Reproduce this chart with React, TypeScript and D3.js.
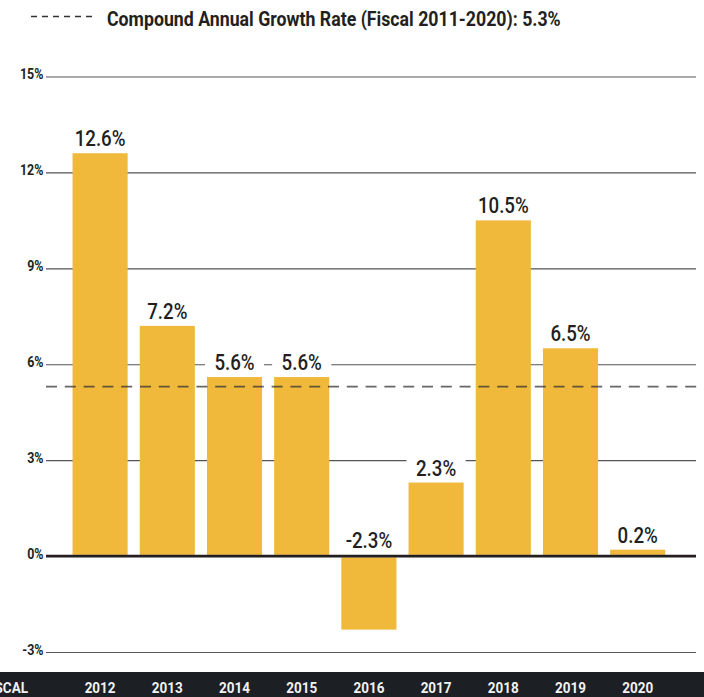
import React, { useLayoutEffect, useRef, useState } from "react";
import * as d3 from "d3";

const years = ["2012", "2013", "2014", "2015", "2016", "2017", "2018", "2019", "2020"];
const growth = [12.6, 7.2, 5.6, 5.6, -2.3, 2.3, 10.5, 6.5, 0.2];
const yTicks = [-3, 0, 3, 6, 9, 12, 15];
const cagr = 5.3;
const titleText = "Compound Annual Growth Rate (Fiscal 2011-2020): 5.3%";
const axisLabel = "FISCAL";

const W = 704;
const H = 697;
const FONT = "Roboto, 'Liberation Sans', sans-serif";
const INK = "#231f20";
const BAR = "#f0b93b";

// Text squeezed horizontally to imitate a condensed face.
function CText(props: {
  x: number; y: number; sx: number; size: number; weight?: string | number;
  anchor?: "start" | "middle" | "end"; fill?: string; children: string;
}) {
  const { x, y, sx, size, weight = "bold", anchor = "start", fill = INK, children } = props;
  return (
    <text
      transform={`translate(${x},${y}) scale(${sx},1)`}
      textAnchor={anchor}
      fontSize={size}
      fontWeight={weight}
      fill={fill}
    >
      {children}
    </text>
  );
}

function FitText(props: { x: number; y: number; width: number; size: number; children: string }) {
  const ref = useRef<SVGTextElement>(null);
  const [sx, setSx] = useState(0.78);
  useLayoutEffect(() => {
    if (ref.current) {
      const w = ref.current.getComputedTextLength();
      if (w > 0) setSx(props.width / w);
    }
  }, [props.width, props.children]);
  return (
    <text
      ref={ref}
      transform={`translate(${props.x},${props.y}) scale(${sx},1)`}
      fontSize={props.size}
      fontWeight="bold"
      fill={INK}
    >
      {props.children}
    </text>
  );
}

export default function App() {
  const x = d3.scaleBand<string>().domain(years).range([66.5, 671.3]).paddingInner(0.18).paddingOuter(0.09);
  const y = d3.scaleLinear().domain([-3, 15]).range([652, 76.5]);
  const bw = x.bandwidth();
  const gridX0 = 46;
  const gridX1 = 696;

  return (
    <svg width={W} height={H} style={{ position: "absolute", left: 0, top: 0, display: "block" }} fontFamily={FONT}>
      <rect x={0} y={0} width={W} height={H} fill="#fff" />
      {/* legend */}
      <line x1={31} x2={92} y1={16.5} y2={16.5} stroke="#333" strokeWidth={1.5} strokeDasharray="6 5" />
      <FitText x={107} y={26} width={454} size={21}>{titleText}</FitText>
      {/* grid */}
      {yTicks.map((t) => (
        <g key={t}>
          {t !== 0 && (
            <line x1={gridX0} x2={gridX1} y1={y(t) + 0.5} y2={y(t) + 0.5} stroke="#555" strokeWidth={1.2} />
          )}
          <CText x={43.5} y={y(t) + 2.5} sx={0.86} size={14.5} anchor="end">{`${t}%`}</CText>
        </g>
      ))}
      {/* bars */}
      {years.map((yr, i) => {
        const v = growth[i];
        const top = v >= 0 ? y(v) : y(0) + 1.2;
        const bottom = v >= 0 ? y(0) - 1.2 : y(v);
        return <rect key={yr} x={x(yr)} y={top} width={bw} height={Math.max(0, bottom - top)} fill={BAR} />;
      })}
      {/* labels with white backing */}
      {years.map((yr, i) => {
        const v = growth[i];
        const base = v >= 0 ? y(v) - 7 : y(0) - 8.5;
        const cx = (x(yr) as number) + bw / 2;
        return (
          <g key={yr}>
            <rect x={(x(yr) as number) - 2} y={base - 20} width={bw + 4} height={23} fill="#fff" />
            <CText x={cx} y={base} sx={0.85} size={22} weight={500} anchor="middle">{`${v.toFixed(1)}%`}</CText>
          </g>
        );
      })}
      {/* zero line */}
      <line x1={gridX0} x2={gridX1} y1={y(0)} y2={y(0)} stroke={INK} strokeWidth={2.6} />
      {/* CAGR dashed line */}
      <line x1={gridX0} x2={W} y1={y(cagr)} y2={y(cagr)} stroke="#333" strokeOpacity={0.75} strokeWidth={1.6} strokeDasharray="11 7.8" />
      {/* bottom band */}
      <rect x={0} y={672} width={W} height={H - 672} fill="#1c1f24" />
      <CText x={28} y={693} sx={0.87} size={15.5} anchor="end" fill="#f2f2f2">{axisLabel}</CText>
      {years.map((yr) => (
        <CText key={yr} x={(x(yr) as number) + bw / 2} y={693} sx={0.87} size={15.5} anchor="middle" fill="#f2f2f2">
          {yr}
        </CText>
      ))}
    </svg>
  );
}
